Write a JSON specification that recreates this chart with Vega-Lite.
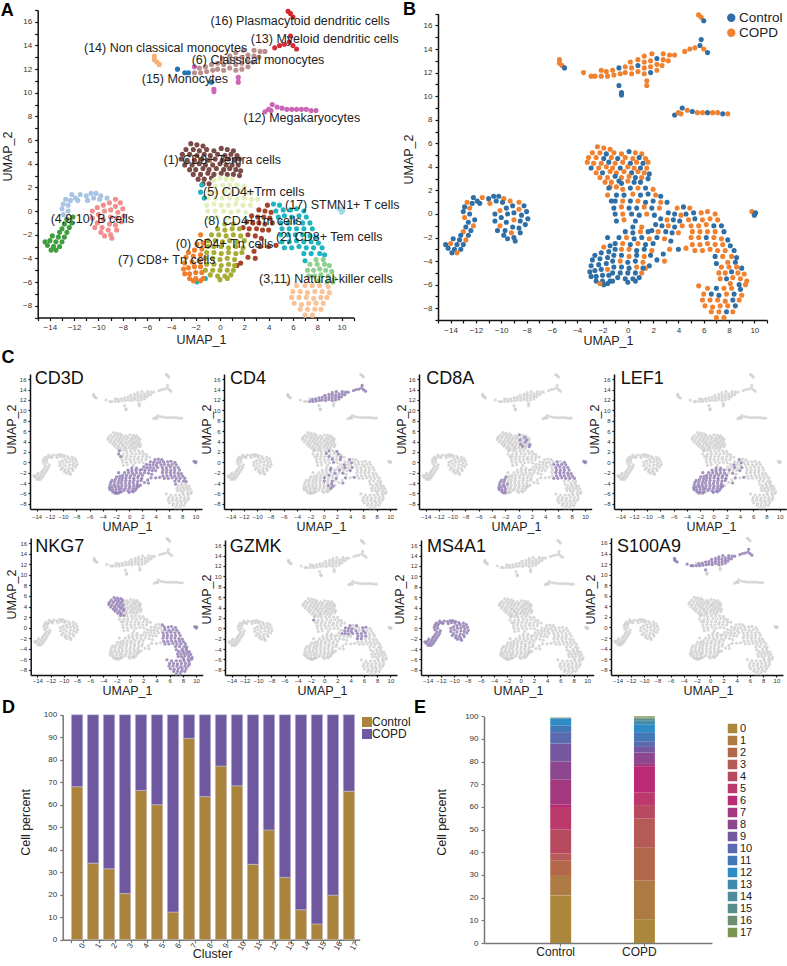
{"$schema":"https://vega.github.io/schema/vega-lite/v6.json","background":"white","padding":{"top":1,"left":0,"right":0,"bottom":0},"resolve":{"scale":{"color":"independent"}},"config":{"view":{"stroke":null},"font":"Liberation Sans","axis":{"grid":false,"labelFont":"Liberation Sans","titleFont":"Liberation Sans","titleFontWeight":"normal","titleColor":"#222","labelColor":"#333","domainColor":"#111","tickColor":"#111","domainWidth":1.5,"tickWidth":1.2,"tickSize":3,"labelFontSize":8,"titleFontSize":12.5,"labelPadding":3},"text":{"font":"Liberation Sans"},"legend":{"labelFont":"Liberation Sans"},"title":{"font":"Liberation Sans","fontWeight":"bold","fontSize":18,"frame":"group"}},"datasets":{"cells":[
{"u":-2.4,"v":5.7,"c":1,"g":"COPD"},{"u":-1.9,"v":5.6,"c":1,"g":"COPD"},{"u":-1.4,"v":5.5,"c":1,"g":"COPD"},{"u":-2.8,"v":5.2,"c":1,"g":"COPD"},{"u":-2.2,"v":5.2,"c":1,"g":"COPD"},{"u":-1.7,"v":5.1,"c":1,"g":"Control"},{"u":-1.1,"v":5.2,"c":1,"g":"COPD"},{"u":-0.5,"v":5.1,"c":1,"g":"COPD"},{"u":0.1,"v":5.3,"c":1,"g":"Control"},{"u":0.6,"v":5.2,"c":1,"g":"COPD"},{"u":1.1,"v":5.1,"c":1,"g":"COPD"},{"u":-3.1,"v":4.8,"c":1,"g":"COPD"},{"u":-2.5,"v":4.8,"c":1,"g":"COPD"},{"u":-1.9,"v":4.7,"c":1,"g":"Control"},{"u":-1.3,"v":4.8,"c":1,"g":"COPD"},{"u":-0.8,"v":4.7,"c":1,"g":"Control"},{"u":-0.2,"v":4.8,"c":1,"g":"COPD"},{"u":0.4,"v":4.7,"c":1,"g":"COPD"},{"u":0.9,"v":4.8,"c":1,"g":"Control"},{"u":1.4,"v":4.7,"c":1,"g":"COPD"},{"u":-3.2,"v":4.4,"c":1,"g":"COPD"},{"u":-2.7,"v":4.3,"c":1,"g":"COPD"},{"u":-2.1,"v":4.3,"c":1,"g":"COPD"},{"u":-1.5,"v":4.4,"c":1,"g":"Control"},{"u":-1,"v":4.3,"c":1,"g":"COPD"},{"u":-0.4,"v":4.4,"c":1,"g":"COPD"},{"u":0.2,"v":4.3,"c":1,"g":"Control"},{"u":0.7,"v":4.4,"c":1,"g":"COPD"},{"u":1.2,"v":4.3,"c":1,"g":"Control"},{"u":1.6,"v":4.4,"c":1,"g":"COPD"},{"u":-2.9,"v":3.9,"c":1,"g":"Control"},{"u":-2.3,"v":3.9,"c":1,"g":"COPD"},{"u":-1.7,"v":4,"c":1,"g":"COPD"},{"u":-1.2,"v":3.9,"c":1,"g":"COPD"},{"u":-0.6,"v":3.9,"c":1,"g":"Control"},{"u":0,"v":4,"c":1,"g":"COPD"},{"u":0.5,"v":3.9,"c":1,"g":"COPD"},{"u":1,"v":3.9,"c":1,"g":"Control"},{"u":1.5,"v":3.9,"c":1,"g":"COPD"},{"u":-2.5,"v":3.5,"c":1,"g":"COPD"},{"u":-2,"v":3.5,"c":1,"g":"Control"},{"u":-1.4,"v":3.6,"c":1,"g":"COPD"},{"u":-0.9,"v":3.5,"c":1,"g":"COPD"},{"u":-0.3,"v":3.6,"c":1,"g":"COPD"},{"u":0.3,"v":3.5,"c":1,"g":"Control"},{"u":0.8,"v":3.6,"c":1,"g":"COPD"},{"u":1.3,"v":3.5,"c":1,"g":"COPD"},{"u":1.7,"v":3.4,"c":1,"g":"Control"},{"u":-2.2,"v":3.1,"c":1,"g":"COPD"},{"u":-1.6,"v":3.1,"c":1,"g":"COPD"},{"u":-1,"v":3.2,"c":1,"g":"Control"},{"u":-0.5,"v":3.1,"c":1,"g":"COPD"},{"u":0.1,"v":3.2,"c":1,"g":"COPD"},{"u":0.6,"v":3.1,"c":1,"g":"Control"},{"u":1.1,"v":3.1,"c":1,"g":"COPD"},{"u":1.6,"v":3,"c":1,"g":"Control"},{"u":-1.8,"v":2.7,"c":1,"g":"COPD"},{"u":-1.3,"v":2.7,"c":1,"g":"COPD"},{"u":-0.7,"v":2.8,"c":1,"g":"Control"},{"u":-1.4,"v":2.3,"c":1,"g":"COPD"},{"u":-0.9,"v":2.3,"c":1,"g":"COPD"},
{"u":-0.5,"v":2.6,"c":5,"g":"Control"},{"u":0,"v":2.8,"c":5,"g":"COPD"},{"u":0.5,"v":2.7,"c":5,"g":"Control"},{"u":1,"v":2.7,"c":5,"g":"Control"},{"u":-0.4,"v":2.1,"c":5,"g":"COPD"},{"u":0.2,"v":2.2,"c":5,"g":"Control"},{"u":0.8,"v":2.2,"c":5,"g":"COPD"},{"u":1.4,"v":2.2,"c":5,"g":"Control"},{"u":2,"v":2.1,"c":5,"g":"COPD"},{"u":-0.9,"v":1.6,"c":5,"g":"Control"},{"u":-0.3,"v":1.6,"c":5,"g":"Control"},{"u":0.4,"v":1.7,"c":5,"g":"COPD"},{"u":1,"v":1.6,"c":5,"g":"Control"},{"u":1.6,"v":1.7,"c":5,"g":"Control"},{"u":2.2,"v":1.6,"c":5,"g":"COPD"},{"u":2.6,"v":1.5,"c":5,"g":"Control"},{"u":-1,"v":1.1,"c":5,"g":"Control"},{"u":-0.4,"v":1.1,"c":5,"g":"COPD"},{"u":0.2,"v":1.1,"c":5,"g":"Control"},{"u":0.8,"v":1.1,"c":5,"g":"COPD"},{"u":1.4,"v":1,"c":5,"g":"Control"},{"u":2,"v":1.1,"c":5,"g":"Control"},{"u":2.6,"v":1,"c":5,"g":"COPD"},{"u":3.1,"v":1,"c":5,"g":"Control"},{"u":-1.1,"v":0.5,"c":5,"g":"Control"},{"u":-0.5,"v":0.6,"c":5,"g":"COPD"},{"u":0.1,"v":0.5,"c":5,"g":"Control"},{"u":0.7,"v":0.5,"c":5,"g":"Control"},{"u":1.3,"v":0.6,"c":5,"g":"COPD"},{"u":1.9,"v":0.5,"c":5,"g":"Control"},{"u":2.5,"v":0.5,"c":5,"g":"COPD"},{"u":-1,"v":0,"c":5,"g":"Control"},{"u":-0.4,"v":0,"c":5,"g":"COPD"},{"u":0.3,"v":0,"c":5,"g":"Control"},{"u":0.9,"v":-0.1,"c":5,"g":"Control"},{"u":1.5,"v":0,"c":5,"g":"COPD"},{"u":2.1,"v":-0.1,"c":5,"g":"Control"},{"u":-0.9,"v":-0.6,"c":5,"g":"Control"},{"u":-0.3,"v":-0.5,"c":5,"g":"COPD"},{"u":0.6,"v":-0.6,"c":5,"g":"Control"},
{"u":3.9,"v":0.5,"c":8,"g":"COPD"},{"u":3.2,"v":0.1,"c":8,"g":"Control"},{"u":3.7,"v":0,"c":8,"g":"Control"},{"u":4.2,"v":-0.1,"c":8,"g":"COPD"},{"u":2.6,"v":-0.4,"c":8,"g":"Control"},{"u":3.1,"v":-0.5,"c":8,"g":"COPD"},{"u":3.6,"v":-0.5,"c":8,"g":"Control"},{"u":4.1,"v":-0.6,"c":8,"g":"Control"},{"u":2.2,"v":-0.9,"c":8,"g":"Control"},{"u":2.7,"v":-1,"c":8,"g":"Control"},{"u":3.2,"v":-1,"c":8,"g":"COPD"},{"u":3.7,"v":-1.1,"c":8,"g":"Control"},{"u":4.3,"v":-1,"c":8,"g":"COPD"},{"u":1.9,"v":-1.4,"c":8,"g":"Control"},{"u":2.4,"v":-1.5,"c":8,"g":"COPD"},{"u":3,"v":-1.5,"c":8,"g":"Control"},{"u":3.5,"v":-1.6,"c":8,"g":"Control"},{"u":4,"v":-1.6,"c":8,"g":"COPD"},{"u":2.3,"v":-2,"c":8,"g":"Control"},{"u":2.9,"v":-2.1,"c":8,"g":"COPD"},{"u":3.4,"v":-2.3,"c":8,"g":"Control"},{"u":4.6,"v":-2.9,"c":8,"g":"COPD"},{"u":4,"v":-3,"c":8,"g":"Control"},{"u":3.3,"v":-3,"c":8,"g":"COPD"},{"u":2.8,"v":-3.4,"c":8,"g":"Control"},{"u":2.9,"v":-4,"c":8,"g":"COPD"},{"u":2.3,"v":-3.9,"c":8,"g":"Control"},{"u":1.7,"v":-4.4,"c":8,"g":"Control"},{"u":1.4,"v":-4.6,"c":8,"g":"COPD"},
{"u":-1.5,"v":2.2,"c":2,"g":"Control"},{"u":-1.6,"v":1.6,"c":2,"g":"COPD"},{"u":-1.3,"v":1.1,"c":2,"g":"Control"},{"u":4.4,"v":0.6,"c":2,"g":"Control"},{"u":4.9,"v":0.5,"c":2,"g":"COPD"},{"u":4.6,"v":0,"c":2,"g":"Control"},{"u":5.2,"v":0.1,"c":2,"g":"Control"},{"u":5.8,"v":0.1,"c":2,"g":"COPD"},{"u":6.3,"v":0.2,"c":2,"g":"COPD"},{"u":6.9,"v":0,"c":2,"g":"COPD"},{"u":4.8,"v":-0.5,"c":2,"g":"COPD"},{"u":5.3,"v":-0.4,"c":2,"g":"Control"},{"u":5.9,"v":-0.5,"c":2,"g":"COPD"},{"u":6.5,"v":-0.4,"c":2,"g":"COPD"},{"u":7.1,"v":-0.5,"c":2,"g":"COPD"},{"u":5,"v":-1,"c":2,"g":"COPD"},{"u":5.6,"v":-1,"c":2,"g":"COPD"},{"u":6.2,"v":-0.9,"c":2,"g":"COPD"},{"u":6.8,"v":-1,"c":2,"g":"Control"},{"u":7.4,"v":-1,"c":2,"g":"Control"},{"u":5.1,"v":-1.5,"c":2,"g":"COPD"},{"u":5.7,"v":-1.5,"c":2,"g":"COPD"},{"u":6.3,"v":-1.5,"c":2,"g":"COPD"},{"u":6.9,"v":-1.5,"c":2,"g":"COPD"},{"u":7.6,"v":-1.5,"c":2,"g":"Control"},{"u":5,"v":-2,"c":2,"g":"COPD"},{"u":5.6,"v":-2,"c":2,"g":"COPD"},{"u":6.2,"v":-2,"c":2,"g":"Control"},{"u":6.8,"v":-2,"c":2,"g":"COPD"},{"u":7.4,"v":-2.1,"c":2,"g":"COPD"},{"u":7.9,"v":-2.2,"c":2,"g":"Control"},{"u":5.1,"v":-2.6,"c":2,"g":"COPD"},{"u":5.7,"v":-2.6,"c":2,"g":"COPD"},{"u":6.3,"v":-2.5,"c":2,"g":"COPD"},{"u":6.9,"v":-2.6,"c":2,"g":"COPD"},{"u":7.5,"v":-2.6,"c":2,"g":"COPD"},{"u":8.1,"v":-2.7,"c":2,"g":"Control"},{"u":5.3,"v":-3.1,"c":2,"g":"COPD"},{"u":5.9,"v":-3.1,"c":2,"g":"COPD"},{"u":6.5,"v":-3,"c":2,"g":"COPD"},{"u":7.1,"v":-3.1,"c":2,"g":"COPD"},{"u":7.7,"v":-3.1,"c":2,"g":"COPD"},{"u":8.4,"v":-3.1,"c":2,"g":"Control"},{"u":6.9,"v":-3.6,"c":2,"g":"Control"},{"u":7.5,"v":-3.6,"c":2,"g":"COPD"},{"u":8.2,"v":-3.6,"c":2,"g":"COPD"},{"u":8.6,"v":-3.7,"c":2,"g":"Control"},{"u":7,"v":-4.2,"c":2,"g":"Control"},{"u":-1.9,"v":-6,"c":2,"g":"Control"},{"u":-1.2,"v":-5.7,"c":2,"g":"Control"},
{"u":7.9,"v":-4.1,"c":3,"g":"COPD"},{"u":8.5,"v":-4.1,"c":3,"g":"Control"},{"u":7.4,"v":-4.5,"c":3,"g":"COPD"},{"u":8,"v":-4.5,"c":3,"g":"COPD"},{"u":8.6,"v":-4.5,"c":3,"g":"COPD"},{"u":9,"v":-4.6,"c":3,"g":"Control"},{"u":7.2,"v":-5,"c":3,"g":"COPD"},{"u":7.7,"v":-5,"c":3,"g":"COPD"},{"u":8.2,"v":-4.9,"c":3,"g":"Control"},{"u":8.7,"v":-5,"c":3,"g":"COPD"},{"u":9.2,"v":-5.1,"c":3,"g":"COPD"},{"u":7.3,"v":-5.5,"c":3,"g":"COPD"},{"u":7.8,"v":-5.5,"c":3,"g":"Control"},{"u":8.3,"v":-5.4,"c":3,"g":"COPD"},{"u":8.9,"v":-5.5,"c":3,"g":"COPD"},{"u":9.4,"v":-5.7,"c":3,"g":"COPD"},{"u":8.1,"v":-5.9,"c":3,"g":"COPD"},{"u":8.8,"v":-6,"c":3,"g":"Control"},{"u":9.3,"v":-6,"c":3,"g":"COPD"},
{"u":5.6,"v":-6.1,"c":11,"g":"COPD"},{"u":6.3,"v":-6.3,"c":11,"g":"COPD"},{"u":7,"v":-6.3,"c":11,"g":"Control"},{"u":7.6,"v":-6.3,"c":11,"g":"COPD"},{"u":8.2,"v":-6.3,"c":11,"g":"COPD"},{"u":8.9,"v":-6.4,"c":11,"g":"Control"},{"u":6,"v":-6.8,"c":11,"g":"COPD"},{"u":6.6,"v":-6.8,"c":11,"g":"Control"},{"u":7.2,"v":-6.9,"c":11,"g":"Control"},{"u":7.8,"v":-6.8,"c":11,"g":"COPD"},{"u":8.4,"v":-6.8,"c":11,"g":"Control"},{"u":9,"v":-6.9,"c":11,"g":"COPD"},{"u":5.9,"v":-7.3,"c":11,"g":"COPD"},{"u":6.5,"v":-7.3,"c":11,"g":"COPD"},{"u":7.1,"v":-7.3,"c":11,"g":"COPD"},{"u":7.7,"v":-7.4,"c":11,"g":"COPD"},{"u":8.3,"v":-7.3,"c":11,"g":"Control"},{"u":8.8,"v":-7.3,"c":11,"g":"COPD"},{"u":6.1,"v":-7.8,"c":11,"g":"COPD"},{"u":6.7,"v":-7.9,"c":11,"g":"COPD"},{"u":7.3,"v":-7.8,"c":11,"g":"COPD"},{"u":7.9,"v":-7.8,"c":11,"g":"COPD"},{"u":8.5,"v":-7.8,"c":11,"g":"Control"},{"u":6.6,"v":-8.3,"c":11,"g":"COPD"},{"u":7.2,"v":-8.3,"c":11,"g":"COPD"},{"u":7.8,"v":-8.3,"c":11,"g":"Control"},{"u":8.3,"v":-8.3,"c":11,"g":"COPD"},{"u":7,"v":-8.8,"c":11,"g":"COPD"},{"u":7.6,"v":-8.8,"c":11,"g":"COPD"},
{"u":0.4,"v":-1.1,"c":0,"g":"Control"},{"u":1.1,"v":-1.1,"c":0,"g":"COPD"},{"u":-0.2,"v":-1.5,"c":0,"g":"Control"},{"u":0.4,"v":-1.6,"c":0,"g":"Control"},{"u":1,"v":-1.5,"c":0,"g":"COPD"},{"u":1.6,"v":-1.5,"c":0,"g":"Control"},{"u":-0.7,"v":-2,"c":0,"g":"Control"},{"u":-0.1,"v":-2,"c":0,"g":"COPD"},{"u":0.5,"v":-2.1,"c":0,"g":"Control"},{"u":1.1,"v":-2,"c":0,"g":"Control"},{"u":1.7,"v":-2.1,"c":0,"g":"COPD"},{"u":-1,"v":-2.5,"c":0,"g":"Control"},{"u":-0.4,"v":-2.5,"c":0,"g":"COPD"},{"u":0.2,"v":-2.6,"c":0,"g":"Control"},{"u":0.8,"v":-2.5,"c":0,"g":"COPD"},{"u":1.4,"v":-2.6,"c":0,"g":"Control"},{"u":2,"v":-2.5,"c":0,"g":"Control"},{"u":-1,"v":-3,"c":0,"g":"Control"},{"u":-0.5,"v":-3,"c":0,"g":"COPD"},{"u":0.1,"v":-3,"c":0,"g":"COPD"},{"u":0.7,"v":-3.1,"c":0,"g":"Control"},{"u":1.3,"v":-3,"c":0,"g":"Control"},{"u":1.9,"v":-3.1,"c":0,"g":"COPD"},{"u":-1.1,"v":-3.5,"c":0,"g":"Control"},{"u":-0.5,"v":-3.5,"c":0,"g":"Control"},{"u":0.1,"v":-3.6,"c":0,"g":"COPD"},{"u":0.7,"v":-3.5,"c":0,"g":"Control"},{"u":1.3,"v":-3.6,"c":0,"g":"COPD"},{"u":1.8,"v":-3.5,"c":0,"g":"Control"},{"u":-1.2,"v":-4,"c":0,"g":"Control"},{"u":-0.6,"v":-4,"c":0,"g":"COPD"},{"u":0,"v":-4.1,"c":0,"g":"Control"},{"u":0.6,"v":-4,"c":0,"g":"Control"},{"u":1.2,"v":-4.1,"c":0,"g":"COPD"},{"u":-1.1,"v":-4.5,"c":0,"g":"Control"},{"u":-0.5,"v":-4.5,"c":0,"g":"Control"},{"u":0.1,"v":-4.6,"c":0,"g":"Control"},{"u":0.7,"v":-4.5,"c":0,"g":"COPD"},{"u":1.2,"v":-4.6,"c":0,"g":"Control"},{"u":-1.2,"v":-5,"c":0,"g":"Control"},{"u":-0.6,"v":-5,"c":0,"g":"Control"},{"u":0,"v":-5,"c":0,"g":"Control"},{"u":0.6,"v":-5,"c":0,"g":"Control"},{"u":1.1,"v":-5,"c":0,"g":"COPD"},{"u":-0.8,"v":-5.4,"c":0,"g":"Control"},{"u":-0.2,"v":-5.5,"c":0,"g":"Control"},{"u":0.4,"v":-5.5,"c":0,"g":"Control"},{"u":0.9,"v":-5.4,"c":0,"g":"Control"},{"u":0,"v":-5.8,"c":0,"g":"Control"},{"u":0.6,"v":-5.7,"c":0,"g":"Control"},
{"u":-1.6,"v":-2,"c":7,"g":"Control"},{"u":-1.4,"v":-2.7,"c":7,"g":"Control"},{"u":-1.9,"v":-2.8,"c":7,"g":"COPD"},{"u":-1.5,"v":-3.2,"c":7,"g":"Control"},{"u":-2.1,"v":-3.3,"c":7,"g":"Control"},{"u":-2.6,"v":-3.5,"c":7,"g":"Control"},{"u":-1.6,"v":-3.7,"c":7,"g":"Control"},{"u":-2.2,"v":-3.8,"c":7,"g":"Control"},{"u":-2.8,"v":-3.9,"c":7,"g":"Control"},{"u":-1.7,"v":-4.2,"c":7,"g":"Control"},{"u":-2.3,"v":-4.3,"c":7,"g":"Control"},{"u":-2.9,"v":-4.4,"c":7,"g":"Control"},{"u":-1.6,"v":-4.7,"c":7,"g":"COPD"},{"u":-2.1,"v":-4.7,"c":7,"g":"Control"},{"u":-2.6,"v":-4.8,"c":7,"g":"Control"},{"u":-3,"v":-4.9,"c":7,"g":"Control"},{"u":-1.5,"v":-5.2,"c":7,"g":"Control"},{"u":-2,"v":-5.2,"c":7,"g":"Control"},{"u":-2.5,"v":-5.3,"c":7,"g":"Control"},{"u":-2.9,"v":-5.3,"c":7,"g":"Control"},{"u":-1.4,"v":-5.7,"c":7,"g":"Control"},{"u":-2,"v":-5.7,"c":7,"g":"Control"},{"u":-2.5,"v":-5.7,"c":7,"g":"Control"},{"u":-2.2,"v":-5.9,"c":7,"g":"COPD"},{"u":-1.6,"v":-5.9,"c":7,"g":"Control"},
{"u":-12.9,"v":-0.3,"c":4,"g":"COPD"},{"u":-12.5,"v":0,"c":4,"g":"Control"},{"u":-13,"v":0.2,"c":4,"g":"Control"},{"u":-12.5,"v":0.5,"c":4,"g":"COPD"},{"u":-12.9,"v":0.6,"c":4,"g":"Control"},{"u":-12.3,"v":0.9,"c":4,"g":"Control"},{"u":-12.7,"v":1,"c":4,"g":"COPD"},{"u":-11.9,"v":1.1,"c":4,"g":"Control"},{"u":-12.2,"v":1.4,"c":4,"g":"Control"},{"u":-11.5,"v":1.4,"c":4,"g":"COPD"},{"u":-11.7,"v":0.9,"c":4,"g":"Control"},{"u":-11,"v":1.3,"c":4,"g":"Control"},{"u":-10.9,"v":0.9,"c":4,"g":"COPD"},{"u":-10.6,"v":1.5,"c":4,"g":"Control"},{"u":-10.2,"v":1.5,"c":4,"g":"Control"},{"u":-10.4,"v":1.1,"c":4,"g":"Control"},{"u":-9.8,"v":1.3,"c":4,"g":"COPD"},{"u":-9.9,"v":1,"c":4,"g":"Control"},{"u":-9.3,"v":1.1,"c":4,"g":"COPD"},
{"u":-8.6,"v":1,"c":9,"g":"COPD"},{"u":-8.2,"v":0.7,"c":9,"g":"Control"},{"u":-9.1,"v":0.7,"c":9,"g":"Control"},{"u":-8.6,"v":0.4,"c":9,"g":"COPD"},{"u":-9.6,"v":0.5,"c":9,"g":"Control"},{"u":-8,"v":0.2,"c":9,"g":"Control"},{"u":-9,"v":0.1,"c":9,"g":"Control"},{"u":-10.1,"v":0.3,"c":9,"g":"COPD"},{"u":-9.5,"v":0,"c":9,"g":"Control"},{"u":-8.4,"v":-0.1,"c":9,"g":"Control"},{"u":-7.9,"v":-0.4,"c":9,"g":"Control"},{"u":-10.5,"v":0,"c":9,"g":"Control"},{"u":-10,"v":-0.3,"c":9,"g":"Control"},{"u":-9,"v":-0.5,"c":9,"g":"COPD"},{"u":-8.5,"v":-0.6,"c":9,"g":"Control"},{"u":-10.5,"v":-0.6,"c":9,"g":"Control"},{"u":-9.6,"v":-0.7,"c":9,"g":"Control"},{"u":-8.1,"v":-0.9,"c":9,"g":"Control"},{"u":-10.1,"v":-1,"c":9,"g":"COPD"},{"u":-9.1,"v":-1.1,"c":9,"g":"Control"},{"u":-8.6,"v":-1.2,"c":9,"g":"Control"},{"u":-10.3,"v":-1.4,"c":9,"g":"Control"},{"u":-9.7,"v":-1.4,"c":9,"g":"Control"},{"u":-9.2,"v":-1.6,"c":9,"g":"COPD"},{"u":-8.5,"v":-1.6,"c":9,"g":"Control"},{"u":-9.8,"v":-1.8,"c":9,"g":"Control"},{"u":-9,"v":-2,"c":9,"g":"Control"},{"u":-9.5,"v":-2.1,"c":9,"g":"Control"},{"u":-8.9,"v":-2.3,"c":9,"g":"Control"},
{"u":-12.1,"v":-0.5,"c":10,"g":"Control"},{"u":-12.6,"v":-0.7,"c":10,"g":"Control"},{"u":-12.2,"v":-1,"c":10,"g":"COPD"},{"u":-12.8,"v":-1.1,"c":10,"g":"Control"},{"u":-12.4,"v":-1.4,"c":10,"g":"Control"},{"u":-13,"v":-1.5,"c":10,"g":"COPD"},{"u":-12.6,"v":-1.8,"c":10,"g":"Control"},{"u":-13.2,"v":-1.8,"c":10,"g":"Control"},{"u":-12.8,"v":-2.2,"c":10,"g":"COPD"},{"u":-13.3,"v":-2.2,"c":10,"g":"Control"},{"u":-13.8,"v":-2.1,"c":10,"g":"Control"},{"u":-13,"v":-2.6,"c":10,"g":"Control"},{"u":-13.5,"v":-2.6,"c":10,"g":"Control"},{"u":-14,"v":-2.5,"c":10,"g":"COPD"},{"u":-14.4,"v":-2.6,"c":10,"g":"Control"},{"u":-13.2,"v":-3,"c":10,"g":"Control"},{"u":-13.7,"v":-3,"c":10,"g":"Control"},{"u":-14.2,"v":-2.9,"c":10,"g":"Control"},{"u":-13.5,"v":-3.3,"c":10,"g":"COPD"},{"u":-13.9,"v":-3.3,"c":10,"g":"Control"},
{"u":-2.1,"v":11.7,"c":6,"g":"COPD"},{"u":-1.6,"v":11.7,"c":6,"g":"COPD"},{"u":-1.1,"v":11.8,"c":6,"g":"COPD"},{"u":-0.6,"v":11.9,"c":6,"g":"COPD"},{"u":-1.7,"v":12.1,"c":6,"g":"COPD"},{"u":-1.2,"v":12.2,"c":6,"g":"COPD"},{"u":-0.7,"v":12.4,"c":6,"g":"Control"},{"u":-0.2,"v":12,"c":6,"g":"COPD"},{"u":-0.2,"v":12.5,"c":6,"g":"COPD"},{"u":0.3,"v":11.9,"c":6,"g":"COPD"},{"u":0.3,"v":12.4,"c":6,"g":"COPD"},{"u":0.2,"v":12.9,"c":6,"g":"COPD"},{"u":0.8,"v":12.1,"c":6,"g":"COPD"},{"u":0.8,"v":12.6,"c":6,"g":"Control"},{"u":0.8,"v":13.1,"c":6,"g":"COPD"},{"u":1.3,"v":11.9,"c":6,"g":"COPD"},{"u":1.3,"v":12.4,"c":6,"g":"COPD"},{"u":1.3,"v":12.9,"c":6,"g":"COPD"},{"u":1.3,"v":13.4,"c":6,"g":"COPD"},{"u":1.8,"v":12,"c":6,"g":"Control"},{"u":1.8,"v":12.5,"c":6,"g":"COPD"},{"u":1.8,"v":13,"c":6,"g":"COPD"},{"u":1.9,"v":13.6,"c":6,"g":"COPD"},{"u":2.3,"v":12.2,"c":6,"g":"COPD"},{"u":2.3,"v":12.7,"c":6,"g":"COPD"},{"u":2.3,"v":13.2,"c":6,"g":"Control"},{"u":2.7,"v":12.6,"c":6,"g":"COPD"},{"u":2.8,"v":13.1,"c":6,"g":"COPD"},{"u":2.8,"v":13.6,"c":6,"g":"COPD"},{"u":3.2,"v":13,"c":6,"g":"COPD"},{"u":3.3,"v":13.5,"c":6,"g":"COPD"},{"u":3.7,"v":13.5,"c":6,"g":"COPD"},
{"u":3.7,"v":8.4,"c":12,"g":"Control"},{"u":4,"v":8.6,"c":12,"g":"COPD"},{"u":4.3,"v":9,"c":12,"g":"Control"},{"u":4.2,"v":8.5,"c":12,"g":"COPD"},{"u":4.7,"v":8.8,"c":12,"g":"COPD"},{"u":5.1,"v":8.7,"c":12,"g":"Control"},{"u":5.5,"v":8.6,"c":12,"g":"COPD"},{"u":5.9,"v":8.6,"c":12,"g":"COPD"},{"u":6.3,"v":8.6,"c":12,"g":"Control"},{"u":6.7,"v":8.6,"c":12,"g":"COPD"},{"u":7.1,"v":8.6,"c":12,"g":"COPD"},{"u":7.5,"v":8.5,"c":12,"g":"Control"},{"u":7.9,"v":8.5,"c":12,"g":"COPD"},{"u":1.5,"v":11.3,"c":12,"g":"COPD"},{"u":1.5,"v":10.9,"c":12,"g":"COPD"},{"u":-0.5,"v":10.3,"c":12,"g":"Control"},{"u":-0.5,"v":10.1,"c":12,"g":"Control"},{"u":-2.1,"v":12.2,"c":12,"g":"COPD"},
{"u":4.5,"v":13.8,"c":13,"g":"COPD"},{"u":4.9,"v":14,"c":13,"g":"COPD"},{"u":5.3,"v":14.1,"c":13,"g":"COPD"},{"u":5.7,"v":14.3,"c":13,"g":"Control"},{"u":5.8,"v":14.8,"c":13,"g":"Control"},{"u":6,"v":14,"c":13,"g":"COPD"},{"u":6.3,"v":13.7,"c":13,"g":"Control"},
{"u":-5.4,"v":13.1,"c":14,"g":"COPD"},{"u":-5.4,"v":12.8,"c":14,"g":"COPD"},{"u":-5.2,"v":12.6,"c":14,"g":"COPD"},{"u":-5,"v":12.4,"c":14,"g":"Control"},
{"u":-3.5,"v":12,"c":15,"g":"COPD"},{"u":-2.9,"v":11.7,"c":15,"g":"COPD"},{"u":-2.6,"v":11.7,"c":15,"g":"COPD"},{"u":-0.7,"v":10.9,"c":15,"g":"Control"},
{"u":5.6,"v":16.9,"c":16,"g":"COPD"},{"u":5.8,"v":16.7,"c":16,"g":"COPD"},{"u":6,"v":16.4,"c":16,"g":"Control"},
{"u":9.8,"v":0.2,"c":17,"g":"COPD"},{"u":10.1,"v":0.1,"c":17,"g":"Control"},{"u":10,"v":-0.1,"c":17,"g":"Control"}
],"pct":[{"k":"0","g":"Control","s":0,"p":68},{"k":"0","g":"COPD","s":1,"p":32},{"k":"1","g":"Control","s":0,"p":34},{"k":"1","g":"COPD","s":1,"p":66},{"k":"2","g":"Control","s":0,"p":31.5},{"k":"2","g":"COPD","s":1,"p":68.5},{"k":"3","g":"Control","s":0,"p":20.5},{"k":"3","g":"COPD","s":1,"p":79.5},{"k":"4","g":"Control","s":0,"p":66.3},{"k":"4","g":"COPD","s":1,"p":33.7},{"k":"5","g":"Control","s":0,"p":60},{"k":"5","g":"COPD","s":1,"p":40},{"k":"6","g":"Control","s":0,"p":12.3},{"k":"6","g":"COPD","s":1,"p":87.7},{"k":"7","g":"Control","s":0,"p":89.5},{"k":"7","g":"COPD","s":1,"p":10.5},{"k":"8","g":"Control","s":0,"p":63.6},{"k":"8","g":"COPD","s":1,"p":36.4},{"k":"9","g":"Control","s":0,"p":77.2},{"k":"9","g":"COPD","s":1,"p":22.8},{"k":"10","g":"Control","s":0,"p":68.4},{"k":"10","g":"COPD","s":1,"p":31.6},{"k":"11","g":"Control","s":0,"p":33.5},{"k":"11","g":"COPD","s":1,"p":66.5},{"k":"12","g":"Control","s":0,"p":48.8},{"k":"12","g":"COPD","s":1,"p":51.2},{"k":"13","g":"Control","s":0,"p":27.7},{"k":"13","g":"COPD","s":1,"p":72.3},{"k":"14","g":"Control","s":0,"p":13.3},{"k":"14","g":"COPD","s":1,"p":86.7},{"k":"15","g":"Control","s":0,"p":7},{"k":"15","g":"COPD","s":1,"p":93},{"k":"16","g":"Control","s":0,"p":19.8},{"k":"16","g":"COPD","s":1,"p":80.2},{"k":"17","g":"Control","s":0,"p":66},{"k":"17","g":"COPD","s":1,"p":34}],"mix":[{"g":"Control","k":"0","s":0,"p":21},{"g":"Control","k":"1","s":1,"p":9},{"g":"Control","k":"2","s":2,"p":6.5},{"g":"Control","k":"3","s":3,"p":3},{"g":"Control","k":"4","s":4,"p":10.5},{"g":"Control","k":"5","s":5,"p":10},{"g":"Control","k":"6","s":6,"p":1},{"g":"Control","k":"7","s":7,"p":11},{"g":"Control","k":"8","s":8,"p":8},{"g":"Control","k":"9","s":9,"p":8},{"g":"Control","k":"10","s":10,"p":5},{"g":"Control","k":"11","s":11,"p":3},{"g":"Control","k":"12","s":12,"p":3},{"g":"Control","k":"13","s":13,"p":0.2},{"g":"Control","k":"14","s":14,"p":0.1},{"g":"Control","k":"15","s":15,"p":0.05},{"g":"Control","k":"16","s":16,"p":0.05},{"g":"Control","k":"17","s":17,"p":0.1},{"g":"COPD","k":"0","s":0,"p":10.5},{"g":"COPD","k":"1","s":1,"p":17},{"g":"COPD","k":"2","s":2,"p":14.5},{"g":"COPD","k":"3","s":3,"p":13},{"g":"COPD","k":"4","s":4,"p":5.5},{"g":"COPD","k":"5","s":5,"p":6},{"g":"COPD","k":"6","s":6,"p":11.5},{"g":"COPD","k":"7","s":7,"p":1},{"g":"COPD","k":"8","s":8,"p":5},{"g":"COPD","k":"9","s":9,"p":2.5},{"g":"COPD","k":"10","s":10,"p":2.5},{"g":"COPD","k":"11","s":11,"p":4},{"g":"COPD","k":"12","s":12,"p":3.5},{"g":"COPD","k":"13","s":13,"p":1},{"g":"COPD","k":"14","s":14,"p":0.8},{"g":"COPD","k":"15","s":15,"p":0.7},{"g":"COPD","k":"16","s":16,"p":0.5},{"g":"COPD","k":"17","s":17,"p":0.5}]},"spacing":0,"vconcat":[{"bounds":"flush","spacing":0,"resolve":{"scale":{"color":"independent"}},"hconcat":[{"width":407.4,"height":310,"layer":[{"data":{"name":"cells"},"mark":{"type":"circle","size":26,"opacity":1},"encoding":{"color":{"field":"c","type":"nominal","scale":{"domain":[0,1,2,3,4,5,6,7,8,9,10,11,12,13,14,15,16,17],"range":["#a8ae35","#7b4b47","#1fb5c0","#8fd08f","#a8c3e3","#e4efbe","#bc8f8f","#f07d28","#a5452c","#f28e8e","#3f9e3e","#f9c397","#cc66b4","#d62a3a","#f9b078","#1f77b4","#d62728","#9edae5"]},"legend":null}}},{"data":{"values":[{"u":-18.05,"v":16.9,"t":"A"}]},"mark":{"type":"text","align":"left","fontSize":18,"fontWeight":"bold","color":"#000"},"encoding":{"text":{"field":"t"}}},{"data":{"values":[{"u":-0.79,"v":16.07,"t":"(16) Plasmacytoid dendritic cells"},{"u":2.53,"v":14.55,"t":"(13) Myeloid dendritic cells"},{"u":-11.19,"v":13.81,"t":"(14) Non classical monocytes"},{"u":-2.33,"v":12.75,"t":"(6) Classical monocytes"},{"u":-6.44,"v":11.14,"t":"(15) Monocytes"},{"u":1.93,"v":7.87,"t":"(12) Megakaryocytes"},{"u":-4.65,"v":4.32,"t":"(1) CD8+ Temra cells"},{"u":-1.39,"v":1.59,"t":"(5) CD4+Trm cells"},{"u":5.35,"v":0.52,"t":"(17) STMN1+ T cells"},{"u":-13.93,"v":-0.64,"t":"(4,9,10) B cells"},{"u":-1.31,"v":-0.84,"t":"(8) CD4+Tm cells"},{"u":4.61,"v":-2.17,"t":"(2) CD8+ Tem cells"},{"u":-3.64,"v":-2.81,"t":"(0) CD4+ Tn cells"},{"u":-8.39,"v":-4.11,"t":"(7) CD8+ Tn cells"},{"u":3.21,"v":-5.74,"t":"(3,11) Natural-killer cells"}]},"mark":{"type":"text","align":"left","fontSize":12.5,"color":"#222"},"encoding":{"text":{"field":"t"}}}],"encoding":{"x":{"field":"u","type":"quantitative","scale":{"domain":[-15,11],"range":[7.7,323.7]},"axis":{"title":"UMAP_1","offset":-2.5,"values":[-15,-14,-13,-12,-11,-10,-9,-8,-7,-6,-5,-4,-3,-2,-1,0,1,2,3,4,5,6,7,8,9,10,11],"labelExpr":"datum.value%2==0&&datum.value<11?datum.label:''","labelFlush":false,"titleX":171,"titleY":16}},"y":{"field":"v","type":"quantitative","scale":{"domain":[-9,17],"range":[307.5,0]},"axis":{"title":"UMAP_2","offset":-7.7,"values":[-9,-8,-7,-6,-5,-4,-3,-2,-1,0,1,2,3,4,5,6,7,8,9,10,11,12,13,14,15,16,17],"labelExpr":"datum.value%2==0?datum.label:''","titleX":-23,"titleY":146}}}},{"width":329,"height":310,"layer":[{"data":{"name":"cells"},"mark":{"type":"circle","size":26,"opacity":1},"encoding":{"color":{"field":"g","type":"nominal","scale":{"domain":["Control","COPD"],"range":["#2f6fa5","#f0812f"]},"legend":{"title":null,"orient":"none","legendX":286.5,"legendY":1,"labelFontSize":13.5,"symbolSize":70,"symbolType":"circle","labelOffset":1,"rowPadding":0,"labelColor":"#222"}}}},{"data":{"values":[{"u":-17.77,"v":17.29,"t":"B"}]},"mark":{"type":"text","align":"left","fontSize":18,"fontWeight":"bold","color":"#000"},"encoding":{"text":{"field":"t"}}}],"encoding":{"x":{"field":"u","type":"quantitative","scale":{"domain":[-15,11],"range":[0,329]},"axis":{"title":"UMAP_1","values":[-15,-14,-13,-12,-11,-10,-9,-8,-7,-6,-5,-4,-3,-2,-1,0,1,2,3,4,5,6,7,8,9,10,11],"labelExpr":"datum.value%2==0&&datum.value<11?datum.label:''","titleX":170,"titleY":14}},"y":{"field":"v","type":"quantitative","scale":{"domain":[-9,17],"range":[310,3.7]},"axis":{"title":"UMAP_2","values":[-9,-8,-7,-6,-5,-4,-3,-2,-1,0,1,2,3,4,5,6,7,8,9,10,11,12,13,14,15,16,17],"labelExpr":"datum.value%2==0?datum.label:''","titleX":-23,"titleY":149}}}}]},
{"bounds":"flush","spacing":0,"hconcat":[
{"width":193.7,"height":162,"layer":[{"data":{"name":"cells"},"mark":{"type":"circle","size":10,"color":"#c8c8c8"}},{"data":{"name":"cells"},"transform":[{"filter":"indexof([0,7,8,2,17],datum.c)>=0"}],"mark":{"type":"circle","size":10,"color":"#8e76b8"}},{"data":{"values":[{"u":-14.3,"v":16,"t":"CD3D"}]},"mark":{"type":"text","align":"left","fontSize":18,"color":"#111"},"encoding":{"text":{"field":"t"}}},{"data":{"values":[{"u":-19.3,"v":20.1,"t":"C"}]},"mark":{"type":"text","align":"left","fontSize":18,"fontWeight":"bold","color":"#000"},"encoding":{"text":{"field":"t"}}}],"encoding":{"x":{"field":"u","type":"quantitative","scale":{"domain":[-15,11],"range":[0,172]},"axis":{"title":"UMAP_1","titleX":97,"titleY":11,"labelFontSize":6,"labelPadding":2,"tickSize":2,"values":[-14,-12,-10,-8,-6,-4,-2,0,2,4,6,8,10]}},"y":{"field":"v","type":"quantitative","scale":{"domain":[-9,17],"range":[162,27]},"axis":{"title":"UMAP_2","titleX":-12,"titleY":82,"labelFontSize":6,"labelPadding":2,"tickSize":2,"values":[-8,-6,-4,-2,0,2,4,6,8,10,12,14,16]}}}},
{"width":194.3,"height":162,"layer":[{"data":{"name":"cells"},"mark":{"type":"circle","size":10,"color":"#c8c8c8"}},{"data":{"name":"cells"},"transform":[{"filter":"datum.c==6||datum.c==13||((datum.c==0||datum.c==8||datum.c==5)&&datum.g=='COPD'&&datum.u>0)"}],"mark":{"type":"circle","size":10,"color":"#8e76b8"}},{"data":{"values":[{"u":-14.1,"v":16,"t":"CD4"}]},"mark":{"type":"text","align":"left","fontSize":18,"color":"#111"},"encoding":{"text":{"field":"t"}}}],"encoding":{"x":{"field":"u","type":"quantitative","scale":{"domain":[-15,11],"range":[0,172.7]},"axis":{"title":"UMAP_1","titleX":97,"titleY":11,"labelFontSize":6,"labelPadding":2,"tickSize":2,"values":[-14,-12,-10,-8,-6,-4,-2,0,2,4,6,8,10]}},"y":{"field":"v","type":"quantitative","scale":{"domain":[-9,17],"range":[162,27]},"axis":{"title":"UMAP_2","titleX":-11,"titleY":82,"labelFontSize":6,"labelPadding":2,"tickSize":2,"values":[-8,-6,-4,-2,0,2,4,6,8,10,12,14,16]}}}},
{"width":194.4,"height":162,"layer":[{"data":{"name":"cells"},"mark":{"type":"circle","size":10,"color":"#c8c8c8"}},{"data":{"name":"cells"},"transform":[{"filter":"(datum.c==7&&datum.u<-1.6)||(datum.c==2&&datum.u>5.2&&datum.v<0.2&&datum.v>-3.6)||datum.c==17||(datum.c==1&&datum.g=='Control'&&datum.u>-0.5)"}],"mark":{"type":"circle","size":10,"color":"#8e76b8"}},{"data":{"values":[{"u":-13.9,"v":16,"t":"CD8A"}]},"mark":{"type":"text","align":"left","fontSize":18,"color":"#111"},"encoding":{"text":{"field":"t"}}}],"encoding":{"x":{"field":"u","type":"quantitative","scale":{"domain":[-15,11],"range":[0,172.7]},"axis":{"title":"UMAP_1","titleX":97,"titleY":11,"labelFontSize":6,"labelPadding":2,"tickSize":2,"values":[-14,-12,-10,-8,-6,-4,-2,0,2,4,6,8,10]}},"y":{"field":"v","type":"quantitative","scale":{"domain":[-9,17],"range":[162,27]},"axis":{"title":"UMAP_2","titleX":-11,"titleY":82,"labelFontSize":6,"labelPadding":2,"tickSize":2,"values":[-8,-6,-4,-2,0,2,4,6,8,10,12,14,16]}}}},
{"width":173,"height":162,"layer":[{"data":{"name":"cells"},"mark":{"type":"circle","size":10,"color":"#c8c8c8"}},{"data":{"name":"cells"},"transform":[{"filter":"datum.c==0||datum.c==7||(datum.c==8&&datum.g=='COPD')"}],"mark":{"type":"circle","size":10,"color":"#8e76b8"}},{"data":{"values":[{"u":-14,"v":16,"t":"LEF1"}]},"mark":{"type":"text","align":"left","fontSize":18,"color":"#111"},"encoding":{"text":{"field":"t"}}}],"encoding":{"x":{"field":"u","type":"quantitative","scale":{"domain":[-15,11],"range":[0,172.3]},"axis":{"title":"UMAP_1","titleX":97,"titleY":11,"labelFontSize":6,"labelPadding":2,"tickSize":2,"values":[-14,-12,-10,-8,-6,-4,-2,0,2,4,6,8,10]}},"y":{"field":"v","type":"quantitative","scale":{"domain":[-9,17],"range":[162,27]},"axis":{"title":"UMAP_2","titleX":-13,"titleY":82,"labelFontSize":6,"labelPadding":2,"tickSize":2,"values":[-8,-6,-4,-2,0,2,4,6,8,10,12,14,16]}}}}]},
{"bounds":"flush","spacing":0,"hconcat":[
{"width":194.7,"height":142,"layer":[{"data":{"name":"cells"},"mark":{"type":"circle","size":10,"color":"#c8c8c8"}},{"data":{"name":"cells"},"transform":[{"filter":"(datum.c==1&&datum.u<-0.8)||(datum.c==2&&datum.u>4.8)||datum.c==3||datum.c==11||datum.c==17"}],"mark":{"type":"circle","size":10,"color":"#8e76b8"}},{"data":{"values":[{"u":-14.3,"v":15.3,"t":"NKG7"}]},"mark":{"type":"text","align":"left","fontSize":18,"color":"#111"},"encoding":{"text":{"field":"t"}}}],"encoding":{"x":{"field":"u","type":"quantitative","scale":{"domain":[-15,11],"range":[0.7,172.7]},"axis":{"title":"UMAP_1","titleX":97,"titleY":9,"labelFontSize":6,"labelPadding":0,"tickSize":2,"values":[-14,-12,-10,-8,-6,-4,-2,0,2,4,6,8,10]}},"y":{"field":"v","type":"quantitative","scale":{"domain":[-9,17],"range":[142,5]},"axis":{"title":"UMAP_2","offset":-0.7,"titleX":-12,"titleY":61,"labelFontSize":6,"labelPadding":2,"tickSize":2,"values":[-8,-6,-4,-2,0,2,4,6,8,10,12,14,16]}}}},
{"width":196,"height":142,"layer":[{"data":{"name":"cells"},"mark":{"type":"circle","size":10,"color":"#c8c8c8"}},{"data":{"name":"cells"},"transform":[{"filter":"(datum.c==8&&datum.v>-1.2&&datum.u>2.6)||(datum.c==2&&datum.u<6.4&&datum.v>-2.4&&datum.g=='COPD')"}],"mark":{"type":"circle","size":10,"color":"#8e76b8"}},{"data":{"values":[{"u":-14.3,"v":15.6,"t":"GZMK"}]},"mark":{"type":"text","align":"left","fontSize":18,"color":"#111"},"encoding":{"text":{"field":"t"}}}],"encoding":{"x":{"field":"u","type":"quantitative","scale":{"domain":[-15,11],"range":[0,172]},"axis":{"title":"UMAP_1","titleX":97,"titleY":9,"labelFontSize":6,"labelPadding":0,"tickSize":2,"values":[-14,-12,-10,-8,-6,-4,-2,0,2,4,6,8,10]}},"y":{"field":"v","type":"quantitative","scale":{"domain":[-9,17],"range":[142,7]},"axis":{"title":"UMAP_2","titleX":-12,"titleY":66,"labelFontSize":6,"labelPadding":2,"tickSize":2,"values":[-8,-6,-4,-2,0,2,4,6,8,10,12,14,16]}}}},
{"width":190,"height":142,"layer":[{"data":{"name":"cells"},"mark":{"type":"circle","size":10,"color":"#c8c8c8"}},{"data":{"name":"cells"},"transform":[{"filter":"datum.c==4||datum.c==9||datum.c==10"}],"mark":{"type":"circle","size":10,"color":"#8e76b8"}},{"data":{"values":[{"u":-14.1,"v":15.6,"t":"MS4A1"}]},"mark":{"type":"text","align":"left","fontSize":18,"color":"#111"},"encoding":{"text":{"field":"t"}}}],"encoding":{"x":{"field":"u","type":"quantitative","scale":{"domain":[-15,11],"range":[0,172.7]},"axis":{"title":"UMAP_1","titleX":97,"titleY":9,"labelFontSize":6,"labelPadding":0,"tickSize":2,"values":[-14,-12,-10,-8,-6,-4,-2,0,2,4,6,8,10]}},"y":{"field":"v","type":"quantitative","scale":{"domain":[-9,17],"range":[142,7]},"axis":{"title":"UMAP_2","titleX":-15,"titleY":66,"labelFontSize":6,"labelPadding":2,"tickSize":2,"values":[-8,-6,-4,-2,0,2,4,6,8,10,12,14,16]}}}},
{"width":173,"height":142,"layer":[{"data":{"name":"cells"},"mark":{"type":"circle","size":10,"color":"#c8c8c8"}},{"data":{"name":"cells"},"transform":[{"filter":"datum.c==6||datum.c==14||datum.c==15||datum.c==13"}],"mark":{"type":"circle","size":10,"color":"#8e76b8"}},{"data":{"values":[{"u":-14.1,"v":15.25,"t":"S100A9"}]},"mark":{"type":"text","align":"left","fontSize":18,"color":"#111"},"encoding":{"text":{"field":"t"}}}],"encoding":{"x":{"field":"u","type":"quantitative","scale":{"domain":[-15,11],"range":[0,172]},"axis":{"title":"UMAP_1","titleX":97,"titleY":9,"labelFontSize":6,"labelPadding":0,"tickSize":2,"values":[-14,-12,-10,-8,-6,-4,-2,0,2,4,6,8,10]}},"y":{"field":"v","type":"quantitative","scale":{"domain":[-9,17],"range":[142,4.7]},"axis":{"title":"UMAP_2","titleX":-14,"titleY":66,"labelFontSize":6,"labelPadding":2,"tickSize":2,"values":[-8,-6,-4,-2,0,2,4,6,8,10,12,14,16]}}}}]},
{"bounds":"flush","spacing":0,"resolve":{"scale":{"color":"independent"}},"hconcat":[{"width":453.7,"height":246,"title":{"text":"D","anchor":"start","offset":-20,"dx":-28,"frame":"group"},"data":{"name":"pct"},"mark":{"type":"bar","stroke":"#cfc8dd","strokeWidth":0.5},"encoding":{"x":{"field":"k","type":"nominal","sort":null,"scale":{"range":[32.7,329.7],"paddingInner":0.29,"paddingOuter":0.43,"align":0.63},"axis":{"title":"Cluster","offset":-3.3,"labelAngle":-60,"labelAlign":"center","labelBaseline":"middle","labelOffset":5,"tickBand":"extent","domainColor":"#777","tickColor":"#777","titleX":182,"titleY":8,"labelPadding":3}},"y":{"field":"p","type":"quantitative","stack":"zero","scale":{"domain":[0,100],"range":[242.7,17.7]},"axis":{"title":"Cell percent","offset":-32.7,"domainColor":"#777","tickColor":"#777","tickCount":10,"titleX":-30,"titleY":125}},"color":{"field":"g","type":"nominal","scale":{"domain":["Control","COPD"],"range":["#ab843c","#6f58a0"]},"legend":{"title":null,"orient":"none","legendX":331,"legendY":19,"symbolType":"square","symbolSize":100,"labelFontSize":12,"labelColor":"#222","symbolStrokeWidth":0,"symbolOpacity":1,"rowPadding":0,"labelOffset":-1}},"order":{"field":"s","type":"quantitative"}}},{"width":290,"height":246,"title":{"text":"E","anchor":"start","offset":-20,"dx":-70,"frame":"group"},"data":{"name":"mix"},"mark":{"type":"bar"},"encoding":{"x":{"field":"g","type":"nominal","sort":["Control","COPD"],"scale":{"range":[0,228],"paddingInner":0.75,"paddingOuter":0.7365,"align":0.537},"axis":{"title":null,"labelAngle":0,"labelFontSize":12,"labelColor":"#222","labelPadding":0,"labelOffset":-5,"domainColor":"#777","tickColor":"#777"}},"y":{"field":"p","type":"quantitative","stack":"zero","scale":{"domain":[0,100],"range":[246,19.3]},"axis":{"title":"Cell percent","domainColor":"#777","tickColor":"#777","tickCount":10,"titleX":-36,"titleY":125}},"color":{"field":"k","type":"nominal","sort":null,"scale":{"domain":["0","1","2","3","4","5","6","7","8","9","10","11","12","13","14","15","16","17"],"range":["#ab873c","#ae7a43","#b2674a","#b55a56","#b84a60","#bb3a6b","#bc2a75","#a3387f","#8c478f","#74579e","#5b69ae","#4277b8","#2e8bc6","#3f8bab","#4e8c9e","#5a8d8a","#6b8f70","#7c9650"]},"legend":{"title":null,"orient":"none","legendX":243,"legendY":26,"symbolType":"square","symbolSize":90,"labelFontSize":11,"labelColor":"#222","rowPadding":0,"labelOffset":2,"symbolStrokeWidth":0}},"order":{"field":"s","type":"quantitative"}}}]}]}
